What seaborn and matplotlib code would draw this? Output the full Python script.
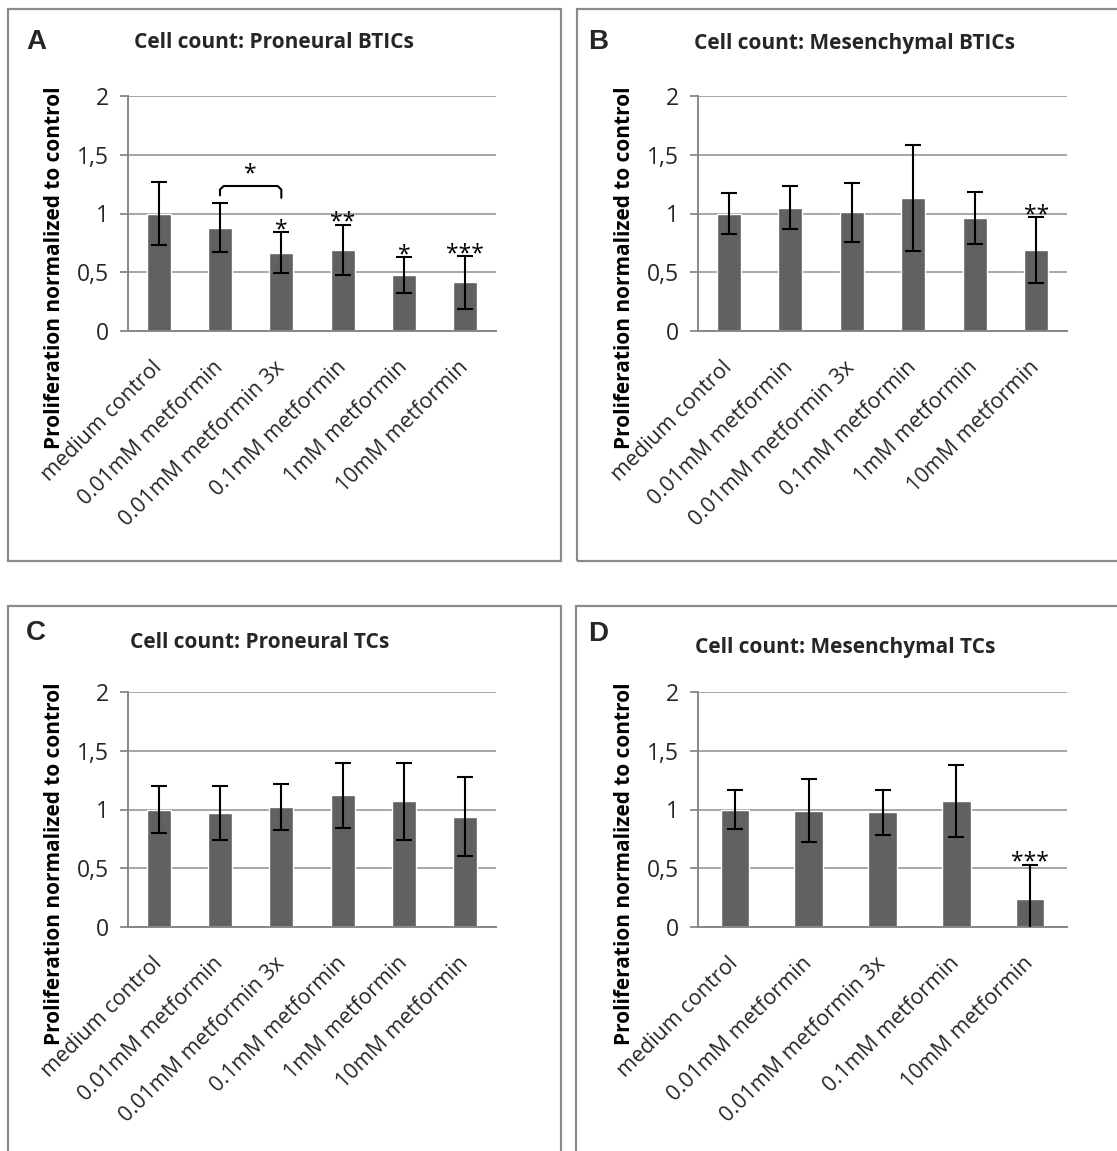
import matplotlib
matplotlib.use("Agg")
import matplotlib.pyplot as plt
from matplotlib.patches import Rectangle
from matplotlib.transforms import ScaledTranslation
import seaborn as sns
import numpy as np

# ---------------- data ----------------
labels_6 = ["medium control", "0.01mM metformin", "0.01mM metformin 3x",
            "0.1mM metformin", "1mM metformin", "10mM metformin"]
labels_5 = ["medium control", "0.01mM metformin", "0.01mM metformin 3x",
            "0.1mM metformin", "10mM metformin"]

a_mean = [1.00, 0.88, 0.665, 0.69, 0.477, 0.414]
a_err = [0.27, 0.21, 0.175, 0.215, 0.155, 0.225]
a_sig = ["", "", "*", "**", "*", "***"]

b_mean = [1.00, 1.05, 1.01, 1.13, 0.96, 0.69]
b_err = [0.177, 0.18, 0.25, 0.45, 0.223, 0.28]
b_sig = ["", "", "", "", "", "**"]

c_mean = [1.00, 0.97, 1.02, 1.12, 1.07, 0.94]
c_err = [0.20, 0.233, 0.193, 0.275, 0.33, 0.333]
c_sig = ["", "", "", "", "", ""]

d_mean = [1.00, 0.99, 0.975, 1.075, 0.236]
d_err = [0.167, 0.27, 0.19, 0.305, 0.295]
d_sig = ["", "", "", "", "***"]

titles = ["Cell count: Proneural BTICs", "Cell count: Mesenchymal BTICs",
          "Cell count: Proneural TCs", "Cell count: Mesenchymal TCs"]
letters = ["A", "B", "C", "D"]
ylabel = "Proliferation normalized to control"
yticks = [0, 0.5, 1, 1.5, 2]
ytick_labels = ["0", "0,5", "1", "1,5", "2"]

# bracket in panel A: between bar 1 and bar 2, label "*"
bracket_a = (1, 2, 1.234, "*")

# ---------------- style ----------------
sns.set_theme(style="white")
plt.rcParams["font.family"] = ["Open Sans", "DejaVu Sans"]

W, H = 1117, 1151
fig = plt.figure(figsize=(W / 100, H / 100), dpi=100)
fig.patch.set_facecolor("white")

BAR = "#616161"
GRID = "#a6a6a6"
AX = "#878787"


def fx(px):
    return px / W


def fy(py):
    return 1 - py / H


# panel frames (pixels: left, top, right, bottom)
frames = [(8, 9, 561, 561), (577, 9, 1125, 561),
          (8, 606, 561, 1160), (576, 606, 1125, 1160)]
for (l, t, r, b) in frames:
    fig.add_artist(Rectangle((fx(l), fy(b)), fx(r) - fx(l), fy(t) - fy(b),
                             transform=fig.transFigure, fill=False,
                             edgecolor="#8a8a8a", linewidth=1.6))

# axes rectangles (pixels)
axes_px = [(128, 96, 496, 331), (698, 96, 1067, 331),
           (128, 692, 496, 927), (698, 692, 1067, 927)]
letter_pos = [(36, 42), (598, 42), (36, 633), (598, 634)]
title_pos = [(274, 43), (854, 43), (260, 642), (845, 647)]

panels = [(labels_6, a_mean, a_err, a_sig),
          (labels_6, b_mean, b_err, b_sig),
          (labels_6, c_mean, c_err, c_sig),
          (labels_5, d_mean, d_err, d_sig)]

shift = ScaledTranslation(10 / 100, 0, fig.dpi_scale_trans)

for i, ((labs, mean, err, sig), (l, t, r, b)) in enumerate(zip(panels, axes_px)):
    ax = fig.add_axes([fx(l), fy(b), fx(r) - fx(l), fy(t) - fy(b)])
    n = len(labs)
    sns.barplot(x=labs, y=mean, color=BAR, saturation=1, width=0.39,
                ax=ax, zorder=2)
    xs = np.arange(n)
    ax.errorbar(xs, mean, yerr=err, fmt="none", ecolor="black",
                elinewidth=1.5, capsize=6, capthick=1.5, zorder=3,
                clip_on=True)
    ax.set_ylim(0, 2)
    ax.set_xlim(-0.5, n - 0.5)
    ax.set_yticks(yticks)
    ax.set_yticklabels(ytick_labels, fontsize=16.5)
    ax.set_xticks(xs)
    ax.set_xticklabels(labs, rotation=45, ha="right", va="center",
                       rotation_mode="anchor", fontsize=15.5)
    for lab in ax.get_xticklabels():
        lab.set_transform(lab.get_transform() + shift)
    ax.tick_params(axis="x", length=0, pad=24)
    ax.tick_params(axis="y", length=6, width=1.3, color=AX, pad=8,
                   direction="out", left=True)
    ax.yaxis.grid(True, color=GRID, linewidth=1.4)
    ax.xaxis.grid(False)
    ax.set_axisbelow(True)
    for s in ["top", "right"]:
        ax.spines[s].set_visible(False)
    for s in ["left", "bottom"]:
        ax.spines[s].set_color(AX)
        ax.spines[s].set_linewidth(1.4)
    ax.set_facecolor("white")
    ax.set_xlabel("")
    ax.set_ylabel(ylabel, fontsize=15, fontweight="bold", color="black")
    ax.yaxis.set_label_coords(-0.172, 0.27)

    for xi, (m, e, s) in enumerate(zip(mean, err, sig)):
        if s:
            ax.annotate(s, (xi, m + e), xytext=(0, -3),
                        textcoords="offset points", ha="center",
                        va="baseline", fontsize=16.5, color="black", zorder=4)

    if i == 0:
        x0, x1, lvl, txt = bracket_a
        ax.plot([x0, x0, x0 + 0.06, x1 - 0.06, x1, x1],
                [lvl - 0.08, lvl - 0.03, lvl, lvl, lvl - 0.03, lvl - 0.1],
                color="black", linewidth=1.5, zorder=4)
        ax.annotate(txt, ((x0 + x1) / 2, lvl), xytext=(0, 4),
                    textcoords="offset points", ha="center", va="baseline",
                    fontsize=16.5, color="black")

    lx, ly = letter_pos[i]
    fig.text(fx(lx), fy(ly), letters[i], ha="center", va="center",
             fontsize=20, fontweight="bold", family="Liberation Sans")
    tx, ty = title_pos[i]
    fig.text(fx(tx), fy(ty), titles[i], ha="center", va="center",
             fontsize=15, fontweight="bold")

fig.savefig("out.png", dpi=100, facecolor="white")
